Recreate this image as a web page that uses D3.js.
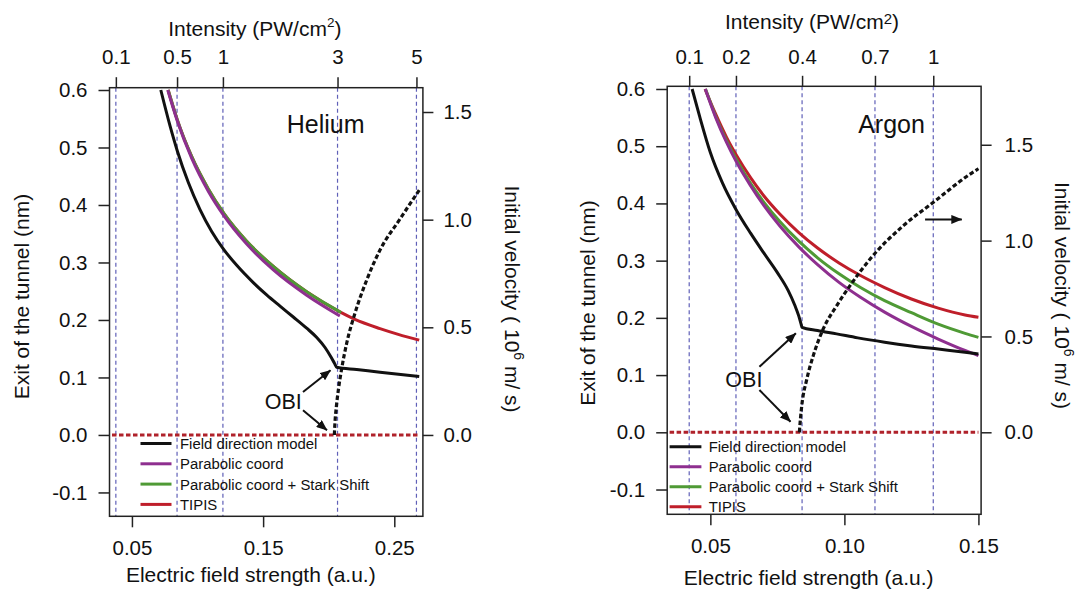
<!DOCTYPE html>
<html><head><meta charset="utf-8">
<script src="https://cdn.jsdelivr.net/npm/d3@7"></script>
<style>
body{margin:0;background:#fff}
svg{display:block}
text{font-family:"Liberation Sans",Arial,Helvetica,sans-serif;fill:#111}
</style>
</head><body>
<svg id="c" width="1082" height="590"></svg>
<script>
// ================= DATA =================
const seriesNames = ["Field direction model","Parabolic coord","Parabolic coord + Stark Shift","TIPIS"];

// ---- Helium ----
const heliumIntensityTicks = [0.1, 0.5, 1, 3, 5];          // PW/cm^2
const heliumIntensityLabels = ["0.1","0.5","1","3","5"];
const heliumIntensityFactor = 70.2;                          // I = factor * E^2
const heliumFieldTicks = [0.05, 0.15, 0.25];
const heliumFieldDomain = [0.0329, 0.2718];
const heliumExitTicks = [0.6, 0.5, 0.4, 0.3, 0.2, 0.1, 0.0, -0.1];
const heliumExitDomain = [-0.1415, 0.604];
const heliumVelocityTicks = [0.0, 0.5, 1.0, 1.5];
const heliumVelocityDomain = [-0.3778, 1.6129];

const heliumFieldDirection = [[0.0720,0.600],[0.0790,0.538],[0.0846,0.494],[0.0930,0.439],[0.1019,0.392],[0.1108,0.354],[0.1202,0.322],[0.1299,0.295],[0.1425,0.265],[0.1527,0.2436],[0.1629,0.2241],[0.1730,0.2052],[0.1832,0.1857],[0.1909,0.1695],[0.1972,0.1521],[0.2015,0.1365],[0.2043,0.1250],[0.2061,0.1178],[0.2213,0.1138],[0.2391,0.1091],[0.2690,0.1015]];
const heliumParabolic = [[0.0773,0.600],[0.0846,0.546],[0.0956,0.481],[0.1082,0.424],[0.1202,0.381],[0.1375,0.332],[0.1578,0.287],[0.1832,0.243],[0.2085,0.207]];
const heliumStark = [[0.0776,0.600],[0.0846,0.548],[0.0956,0.484],[0.1082,0.428],[0.1202,0.385],[0.1375,0.337],[0.1578,0.293],[0.1832,0.249],[0.2095,0.213]];
const heliumTipis = [[0.0776,0.600],[0.0846,0.548],[0.0956,0.484],[0.1082,0.428],[0.1202,0.385],[0.1375,0.337],[0.1578,0.293],[0.1832,0.249],[0.2085,0.214],[0.2200,0.201],[0.2391,0.185],[0.2530,0.175],[0.2690,0.165]];
const heliumVelocity = [[0.2043,0.000],[0.2048,0.060],[0.2058,0.130],[0.2075,0.215],[0.2098,0.305],[0.2137,0.426],[0.2200,0.565],[0.2290,0.720],[0.2391,0.859],[0.2539,0.999],[0.2691,1.138]];
const heliumZeroVelocity = [[0.0348,0],[0.2688,0]];
const heliumObiText = [0.1654, 0.0447];
const heliumObiArrows = [[[0.1804,0.0748],[0.2014,0.1126]],[[0.1804,0.0430],[0.1987,0.0082]]];

// ---- Argon ----
const argonIntensityTicks = [0.1, 0.2, 0.4, 0.7, 1];
const argonIntensityLabels = ["0.1","0.2","0.4","0.7","1"];
const argonIntensityFactor = 56.4;
const argonFieldTicks = [0.05, 0.10, 0.15];
const argonFieldDomain = [0.0339, 0.1510];
const argonExitTicks = [0.6, 0.5, 0.4, 0.3, 0.2, 0.1, 0.0, -0.1];
const argonExitDomain = [-0.1433, 0.6047];
const argonVelocityTicks = [0.0, 0.5, 1.0, 1.5];
const argonVelocityDomain = [-0.4278, 1.805];

const argonFieldDirection = [[0.0432,0.600],[0.0460,0.552],[0.0500,0.489],[0.0545,0.436],[0.0595,0.390],[0.0650,0.348],[0.0700,0.313],[0.0750,0.279],[0.0790,0.248],[0.0815,0.222],[0.0830,0.203],[0.0838,0.190],[0.0842,0.1835],[0.0900,0.1780],[0.0971,0.1720],[0.1050,0.1650],[0.1150,0.1575],[0.1250,0.1510],[0.1350,0.1455],[0.1450,0.1400],[0.1500,0.1370]];
const argonParabolic = [[0.0481,0.600],[0.0520,0.550],[0.0560,0.507],[0.0600,0.470],[0.0650,0.431],[0.0700,0.396],[0.0760,0.360],[0.0830,0.324],[0.0900,0.293],[0.0980,0.262],[0.1060,0.236],[0.1150,0.210],[0.1250,0.185],[0.1350,0.163],[0.1450,0.143],[0.1500,0.134]];
const argonStark = [[0.0482,0.600],[0.0520,0.552],[0.0560,0.510],[0.0600,0.474],[0.0650,0.435],[0.0700,0.402],[0.0760,0.368],[0.0830,0.334],[0.0900,0.305],[0.0980,0.277],[0.1060,0.253],[0.1150,0.230],[0.1250,0.209],[0.1350,0.189],[0.1450,0.173],[0.1500,0.166]];
const argonTipis = [[0.0480,0.600],[0.0520,0.556],[0.0560,0.516],[0.0600,0.482],[0.0650,0.445],[0.0700,0.413],[0.0760,0.381],[0.0830,0.349],[0.0900,0.322],[0.0980,0.296],[0.1060,0.274],[0.1150,0.253],[0.1250,0.233],[0.1350,0.217],[0.1450,0.205],[0.1500,0.201]];
const argonVelocity = [[0.0832,0.000],[0.0836,0.070],[0.0841,0.139],[0.0860,0.278],[0.0884,0.400],[0.0921,0.539],[0.0971,0.660],[0.1021,0.765],[0.1096,0.904],[0.1220,1.078],[0.1332,1.200],[0.1469,1.347],[0.1500,1.375]];
const argonZeroVelocity = [[0.0348,0],[0.1500,0]];
const argonObiText = [0.0625, 0.0797];
const argonObiArrows = [[[0.0683,0.1146],[0.0819,0.1730]],[[0.0683,0.0739],[0.0799,0.0185]]];
const argonVelocityArrow = [[0.1301,0.372],[0.1438,0.372]];

// ================= STYLE =================
const colors = {black:"#111111", purple:"#8e2f8f", green:"#4f9a35", red:"#bf1e2a", guide:"#6060b8", zero:"#b0222b"};

// ================= DRAW =================
const svg = d3.select("#c");
const defs = svg.append("defs");
defs.append("marker").attr("id","ah").attr("viewBox","0 0 11 9").attr("refX",10.5).attr("refY",4.5)
  .attr("markerWidth",11).attr("markerHeight",9).attr("markerUnits","userSpaceOnUse").attr("orient","auto")
  .append("path").attr("d","M0,0L11,4.5L0,9z").attr("fill","#111");

const panels = [
  {name:"Helium", box:[109.5,87.7,422.9,516.3],
   xDomain:heliumFieldDomain, yDomain:heliumExitDomain, vDomain:heliumVelocityDomain,
   xTicks:heliumFieldTicks, yTicks:heliumExitTicks, vTicks:heliumVelocityTicks,
   intTicks:heliumIntensityTicks, intLabels:heliumIntensityLabels, intFactor:heliumIntensityFactor,
   fdm:heliumFieldDirection, par:heliumParabolic, stark:heliumStark, tipis:heliumTipis,
   vel:heliumVelocity, zero:heliumZeroVelocity, obiText:heliumObiText, obiArrows:heliumObiArrows, velArrow:null,
   layout:{topPad:13, leftPad:11, rightPad:10, bottomPad:13, topTitle:[254.8,36], supSmall:false,
     xTitle:[250.8,581.5], yTitle:[29,296.5], vTitle:[505,299], name:[325.6,133],
     legend:{x1:140.5,x2:171.5,tx:180,y:443.5,dy:20.3}}},
  {name:"Argon", box:[667.2,86.3,981.1,514.3],
   xDomain:argonFieldDomain, yDomain:argonExitDomain, vDomain:argonVelocityDomain,
   xTicks:argonFieldTicks, yTicks:argonExitTicks, vTicks:argonVelocityTicks,
   intTicks:argonIntensityTicks, intLabels:argonIntensityLabels, intFactor:argonIntensityFactor,
   fdm:argonFieldDirection, par:argonParabolic, stark:argonStark, tipis:argonTipis,
   vel:argonVelocity, zero:argonZeroVelocity, obiText:argonObiText, obiArrows:argonObiArrows, velArrow:argonVelocityArrow,
   layout:{topPad:12, leftPad:11, rightPad:13, bottomPad:13, topTitle:[812,28.5], supSmall:true,
     xTitle:[808.7,584.5], yTitle:[595,303], vTitle:[1055,295.5], name:[891.5,133],
     legend:{x1:669.6,x2:701.4,tx:708.7,y:446.7,dy:20}}}
];

panels.forEach(p => {
  const [x0,y0,x1,y1] = p.box;
  const L = p.layout;
  const x = d3.scaleLinear().domain(p.xDomain).range([x0,x1]);
  const y = d3.scaleLinear().domain(p.yDomain).range([y1,y0]);
  const v = d3.scaleLinear().domain(p.vDomain).range([y1,y0]);
  const g = svg.append("g");
  const intE = p.intTicks.map(i => Math.sqrt(i / p.intFactor));

  g.append("g").selectAll("line").data(intE).join("line")
    .attr("x1", d => x(d)).attr("x2", d => x(d)).attr("y1", y0).attr("y2", y1)
    .attr("stroke", colors.guide).attr("stroke-width", 1.2).attr("stroke-dasharray", "4,3");

  const line = d3.line().x(d => x(d[0])).y(d => y(d[1])).curve(d3.curveMonotoneX);
  const vline = d3.line().x(d => x(d[0])).y(d => v(d[1])).curve(d3.curveMonotoneX);

  g.append("path").attr("d", vline(p.zero)).attr("fill","none").attr("stroke", colors.zero)
    .attr("stroke-width", 3).attr("stroke-dasharray","4.5,2.5");

  [[p.tipis, colors.red],[p.stark, colors.green],[p.par, colors.purple],[p.fdm, colors.black]].forEach(([d,c]) => {
    g.append("path").attr("d", line(d)).attr("fill","none").attr("stroke", c).attr("stroke-width", 3)
      .attr("stroke-linejoin","round");
  });

  g.append("path").attr("d", vline(p.vel)).attr("fill","none").attr("stroke", colors.black)
    .attr("stroke-width", 3.2).attr("stroke-dasharray","4.5,2.5");

  g.append("rect").attr("x", x0).attr("y", y0).attr("width", x1-x0).attr("height", y1-y0)
    .attr("fill","none").attr("stroke","#222").attr("stroke-width",1.5);

  const styleAxis = sel => {
    sel.select(".domain").remove();
    sel.selectAll(".tick line").attr("stroke","#222").attr("stroke-width",1.5);
    sel.selectAll(".tick text").attr("font-size",20.5).attr("fill","#111")
      .attr("font-family",'"Liberation Sans",Arial,sans-serif');
  };

  g.append("g").attr("transform",`translate(${x0},0)`)
    .call(d3.axisLeft(y).tickValues(p.yTicks).tickSize(11).tickPadding(L.leftPad).tickFormat(d => d.toFixed(1)))
    .call(styleAxis);
  g.append("g").attr("transform",`translate(${x1},0)`)
    .call(d3.axisRight(v).tickValues(p.vTicks).tickSize(10.5).tickPadding(L.rightPad).tickFormat(d => d.toFixed(1)))
    .call(styleAxis);
  g.append("g").attr("transform",`translate(0,${y1})`)
    .call(d3.axisBottom(x).tickValues(p.xTicks).tickSize(11).tickPadding(L.bottomPad).tickFormat(d => d.toFixed(2)))
    .call(styleAxis);
  g.append("g").attr("transform",`translate(0,${y0})`)
    .call(d3.axisTop(x).tickValues(intE).tickSize(10.5).tickPadding(L.topPad).tickFormat((d,i) => p.intLabels[i]))
    .call(styleAxis);

  const tt = g.append("text").attr("x", L.topTitle[0]).attr("y", L.topTitle[1]).attr("text-anchor","middle").attr("font-size",21);
  tt.append("tspan").text("Intensity (PW/cm");
  if (L.supSmall) {
    tt.append("tspan").attr("font-size",15).attr("dy",-5).text("2");
    tt.append("tspan").attr("dy",5).text(")");
  } else {
    tt.append("tspan").attr("font-size",13.5).attr("dy",-9).text("2");
    tt.append("tspan").attr("dy",9).text(")");
  }

  g.append("text").attr("x", L.xTitle[0]).attr("y", L.xTitle[1]).attr("text-anchor","middle").attr("font-size",21)
    .text("Electric field strength (a.u.)");
  g.append("text").attr("transform",`translate(${L.yTitle[0]},${L.yTitle[1]}) rotate(-90)`).attr("text-anchor","middle")
    .attr("font-size",21).text("Exit of the tunnel (nm)");
  const vt = g.append("text").attr("transform",`translate(${L.vTitle[0]},${L.vTitle[1]}) rotate(90)`).attr("text-anchor","middle")
    .attr("font-size",21);
  vt.append("tspan").text("Initial velocity ( 10");
  vt.append("tspan").attr("font-size",14).attr("dy",-9).text("6");
  vt.append("tspan").attr("dy",9).text(" m/ s)");

  g.append("text").attr("x", L.name[0]).attr("y", L.name[1]).attr("text-anchor","middle").attr("font-size",25).text(p.name);

  g.append("text").attr("x", x(p.obiText[0])).attr("y", y(p.obiText[1])).attr("text-anchor","middle")
    .attr("font-size",21.5).text("OBI");
  p.obiArrows.forEach(a => {
    g.append("line").attr("x1", x(a[0][0])).attr("y1", y(a[0][1])).attr("x2", x(a[1][0])).attr("y2", y(a[1][1]))
      .attr("stroke","#111").attr("stroke-width",2).attr("marker-end","url(#ah)");
  });
  if (p.velArrow) {
    const a = p.velArrow;
    g.append("line").attr("x1", x(a[0][0])).attr("y1", y(a[0][1])).attr("x2", x(a[1][0])).attr("y2", y(a[1][1]))
      .attr("stroke","#111").attr("stroke-width",2).attr("marker-end","url(#ah)");
  }

  const lg = L.legend;
  const legColors = [colors.black, colors.purple, colors.green, colors.red];
  seriesNames.forEach((n,i) => {
    const yy = lg.y + i*lg.dy;
    g.append("line").attr("x1", lg.x1).attr("x2", lg.x2).attr("y1", yy).attr("y2", yy)
      .attr("stroke", legColors[i]).attr("stroke-width", 3);
    g.append("text").attr("x", lg.tx).attr("y", yy + 5.4).attr("font-size", 14.9).text(n);
  });
});
</script>
</body></html>
